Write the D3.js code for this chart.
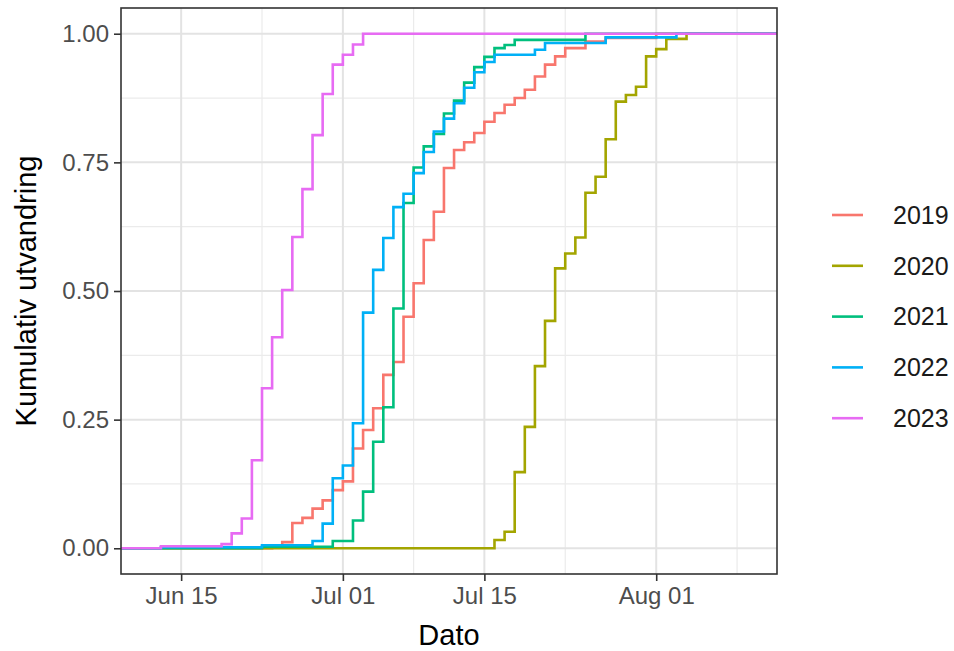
<!DOCTYPE html>
<html>
<head>
<meta charset="utf-8">
<script src="https://cdn.jsdelivr.net/npm/d3@7"></script>
<style>
  body { margin: 0; background: #fff; }
  svg { display: block; font-family: "Liberation Sans", Arial, sans-serif; }
</style>
</head>
<body>
<div id="chart-area"></div>
<script>
// ECDF steps per year: date of jump (MM-DD) and cumulative share after it
const years = ["2019", "2020", "2021", "2022", "2023"]
const colors = ["#F8766D", "#A3A500", "#00BF7D", "#00B0F6", "#E76BF3"]

const dates2019 = ["06-24","06-25","06-26","06-27","06-28","06-29","06-30","07-01","07-02","07-03","07-04","07-05","07-06","07-07","07-08","07-09","07-10","07-11","07-12","07-13","07-14","07-15","07-16","07-17","07-18","07-19","07-20","07-21","07-22","07-23","07-25","07-27","08-01"]
const values2019 = [0.004,0.012,0.049,0.059,0.077,0.093,0.113,0.130,0.194,0.230,0.272,0.337,0.362,0.450,0.515,0.599,0.654,0.739,0.774,0.789,0.807,0.829,0.846,0.862,0.875,0.891,0.917,0.940,0.956,0.972,0.985,0.992,1.0]

const dates2020 = ["07-16","07-17","07-18","07-19","07-20","07-21","07-22","07-23","07-24","07-25","07-26","07-27","07-28","07-29","07-30","07-31","08-01","08-02","08-04"]
const values2020 = [0.016,0.032,0.148,0.236,0.354,0.442,0.544,0.573,0.604,0.691,0.722,0.795,0.868,0.881,0.897,0.956,0.970,0.990,1.0]

const dates2021 = ["06-23","06-30","07-02","07-03","07-04","07-05","07-06","07-07","07-08","07-09","07-10","07-11","07-12","07-13","07-14","07-15","07-16","07-17","07-18","07-25"]
const values2021 = [0.003,0.014,0.054,0.110,0.207,0.274,0.466,0.671,0.740,0.781,0.805,0.845,0.870,0.905,0.935,0.955,0.972,0.978,0.988,1.0]

const dates2022 = ["06-13","06-23","06-28","06-29","06-30","07-01","07-02","07-03","07-04","07-05","07-06","07-07","07-08","07-09","07-10","07-11","07-12","07-13","07-14","07-15","07-16","07-20","07-21","07-27","08-03"]
const values2022 = [0.002,0.006,0.014,0.048,0.136,0.161,0.243,0.458,0.541,0.603,0.663,0.689,0.729,0.770,0.810,0.835,0.865,0.895,0.925,0.945,0.959,0.969,0.982,0.993,1.0]

const dates2023 = ["06-13","06-19","06-20","06-21","06-22","06-23","06-24","06-25","06-26","06-27","06-28","06-29","06-30","07-01","07-02","07-03"]
const values2023 = [0.004,0.008,0.029,0.058,0.171,0.311,0.410,0.502,0.605,0.698,0.803,0.883,0.940,0.959,0.979,1.0]

// axis breaks
const xBreaks = ["06-15", "07-01", "07-15", "08-01"]
const xLabels = ["Jun 15", "Jul 01", "Jul 15", "Aug 01"]
const xMinor = ["06-23", "07-08", "07-23", "08-09"]
const yBreaks = [0, 0.25, 0.5, 0.75, 1]
const yMinor = [0.125, 0.375, 0.625, 0.875]
const dataRange = ["06-12", "08-10"]

const parseDay = d3.timeParse("%Y-%m-%d")
const day = s => parseDay("2023-" + s)

const W = 954, H = 651
const PANEL = { LEFT: 121, RIGHT: 777, TOP: 8, BOTTOM: 574 }

const svg = d3.select("#chart-area").append("svg")
	.attr("width", W)
	.attr("height", H)

// scales with ggplot-like 5% expansion
const d0 = day(dataRange[0]), d1 = day(dataRange[1])
const pad = (d1 - d0) * 0.05
const x = d3.scaleTime()
	.domain([new Date(+d0 - pad), new Date(+d1 + pad)])
	.range([PANEL.LEFT, PANEL.RIGHT])
const y = d3.scaleLinear()
	.domain([-0.05, 1.05])
	.range([PANEL.BOTTOM, PANEL.TOP])

// panel background + grid
svg.append("rect")
	.attr("x", PANEL.LEFT).attr("y", PANEL.TOP)
	.attr("width", PANEL.RIGHT - PANEL.LEFT)
	.attr("height", PANEL.BOTTOM - PANEL.TOP)
	.attr("fill", "#fff")

const grid = svg.append("g")
grid.selectAll(".ymin").data(yMinor).enter().append("line")
	.attr("x1", PANEL.LEFT).attr("x2", PANEL.RIGHT)
	.attr("y1", d => y(d)).attr("y2", d => y(d))
	.attr("stroke", "#EBEBEB").attr("stroke-width", 1.2)
grid.selectAll(".xmin").data(xMinor).enter().append("line")
	.attr("y1", PANEL.TOP).attr("y2", PANEL.BOTTOM)
	.attr("x1", d => x(day(d))).attr("x2", d => x(day(d)))
	.attr("stroke", "#EBEBEB").attr("stroke-width", 1.2)
grid.selectAll(".ymaj").data(yBreaks).enter().append("line")
	.attr("x1", PANEL.LEFT).attr("x2", PANEL.RIGHT)
	.attr("y1", d => y(d)).attr("y2", d => y(d))
	.attr("stroke", "#E3E3E3").attr("stroke-width", 2)
grid.selectAll(".xmaj").data(xBreaks).enter().append("line")
	.attr("y1", PANEL.TOP).attr("y2", PANEL.BOTTOM)
	.attr("x1", d => x(day(d))).attr("x2", d => x(day(d)))
	.attr("stroke", "#E3E3E3").attr("stroke-width", 2)

// step lines, padded to the panel edges like stat_ecdf
const line = d3.line()
	.x(d => x(d.date))
	.y(d => y(d.value))
	.curve(d3.curveStepAfter)

const seriesDates = [dates2019, dates2020, dates2021, dates2022, dates2023]
const seriesValues = [values2019, values2020, values2021, values2022, values2023]

const series = years.map((yr, i) => {
	const pts = seriesDates[i].map((s, j) => ({ date: day(s), value: seriesValues[i][j] }))
	pts.unshift({ date: x.domain()[0], value: 0 })
	pts.push({ date: x.domain()[1], value: pts[pts.length - 1].value })
	return { year: yr, color: colors[i], pts }
})

svg.append("g").selectAll("path").data(series).enter().append("path")
	.attr("d", d => line(d.pts))
	.attr("fill", "none")
	.attr("stroke", d => d.color)
	.attr("stroke-width", 2.6)

// panel border
svg.append("rect")
	.attr("x", PANEL.LEFT).attr("y", PANEL.TOP)
	.attr("width", PANEL.RIGHT - PANEL.LEFT)
	.attr("height", PANEL.BOTTOM - PANEL.TOP)
	.attr("fill", "none")
	.attr("stroke", "#333").attr("stroke-width", 1.6)

// axes
const yAxis = svg.append("g")
	.attr("transform", `translate(${PANEL.LEFT}, 0)`)
	.call(d3.axisLeft(y).tickValues(yBreaks).tickFormat(d3.format(".2f")).tickSize(7).tickPadding(5))
const xAxis = svg.append("g")
	.attr("transform", `translate(0, ${PANEL.BOTTOM})`)
	.call(d3.axisBottom(x).tickValues(xBreaks.map(day)).tickFormat((d, i) => xLabels[i]).tickSize(7).tickPadding(6))

for (const ax of [xAxis, yAxis]) {
	ax.select(".domain").remove()
	ax.selectAll(".tick line").attr("stroke", "#333").attr("stroke-width", 1.6)
	ax.selectAll(".tick text")
		.attr("fill", "#4D4D4D")
		.style("font-size", "24px")
		.style("font-family", "'Liberation Sans', Arial, sans-serif")
}

// axis titles
svg.append("text")
	.attr("x", (PANEL.LEFT + PANEL.RIGHT) / 2)
	.attr("y", 645)
	.attr("text-anchor", "middle")
	.style("font-size", "29px")
	.attr("fill", "#000")
	.text("Dato")

svg.append("text")
	.attr("transform", `translate(36, ${(PANEL.TOP + PANEL.BOTTOM) / 2}) rotate(-90)`)
	.attr("text-anchor", "middle")
	.style("font-size", "29px")
	.attr("fill", "#000")
	.text("Kumulativ utvandring")

// legend
const legend = svg.append("g")
	.attr("transform", "translate(832, 215)")
const item = legend.selectAll("g").data(series).enter().append("g")
	.attr("transform", (d, i) => `translate(0, ${i * 50.8})`)
item.append("line")
	.attr("x1", 0).attr("x2", 31)
	.attr("stroke", d => d.color)
	.attr("stroke-width", 2.6)
item.append("text")
	.attr("x", 61)
	.attr("dy", "0.35em")
	.style("font-size", "25px")
	.attr("fill", "#1A1A1A")
	.text(d => d.year)
</script>
</body>
</html>
